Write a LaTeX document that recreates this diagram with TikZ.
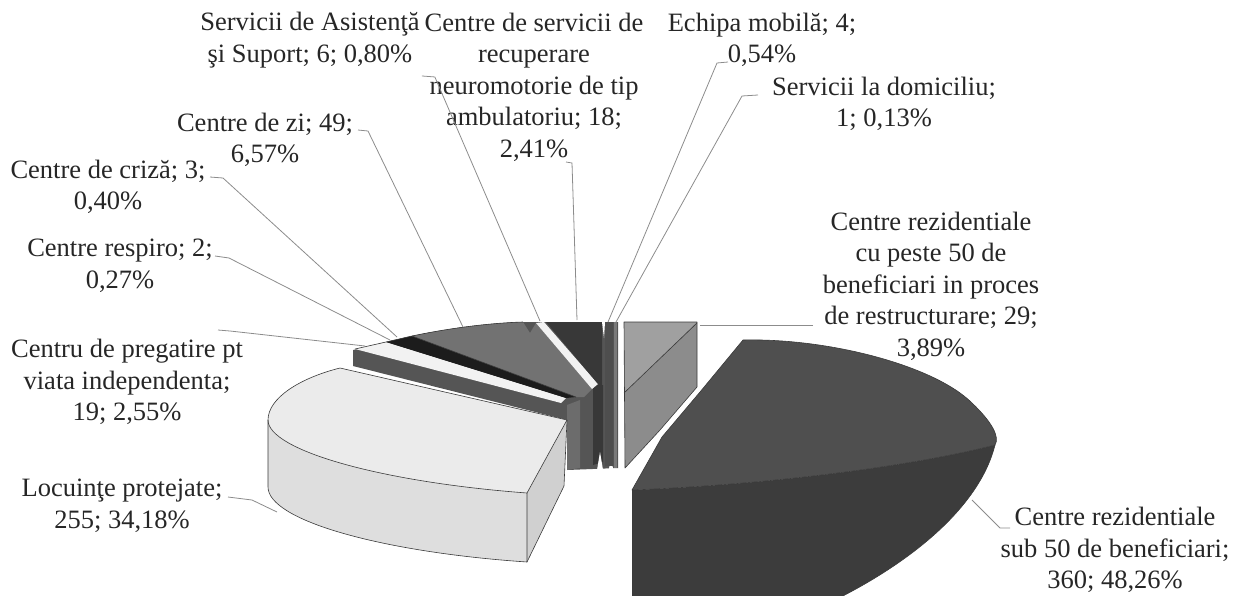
\documentclass[tikz,border=0pt]{standalone}
\usepackage{fontspec}
\setmainfont{Liberation Serif}
\definecolor{txt}{HTML}{262626}
\definecolor{leadc}{HTML}{8C8C8C}
\definecolor{edgec}{HTML}{3A3A3A}
\definecolor{fanbase}{HTML}{555555}
\definecolor{fanwall}{HTML}{6C6C6C}
\definecolor{stripw}{HTML}{F2F2F2}
\definecolor{tiny}{HTML}{1C1C1C}
\definecolor{zitop}{HTML}{727272}
\definecolor{recup}{HTML}{383838}
\definecolor{echc}{HTML}{4E4E4E}
\definecolor{domc}{HTML}{7A7A7A}
\definecolor{boxtop}{HTML}{A0A0A0}
\definecolor{boxlow}{HTML}{8C8C8C}
\definecolor{bigtop}{HTML}{4F4F4F}
\definecolor{bigwall}{HTML}{3C3C3C}
\definecolor{loctop}{HTML}{EBEBEB}
\definecolor{locwall}{HTML}{DEDEDE}
\definecolor{locrad}{HTML}{D0D0D0}
\begin{document}
\begin{tikzpicture}[x=1pt,y=-1pt,
  lbl/.style={align=center,text=txt,font=\fontsize{26.5}{31.5}\selectfont,inner sep=0pt},
  leader/.style={draw=leadc,line width=0.8pt},
  edgeline/.style={draw=edgec,line width=0.6pt,line join=round}]
\useasboundingbox (0,0) rectangle (1235,595);
\begin{scope}
\clip (0,0) rectangle (1235,595);
% back fan block
\fill[fanbase] (353,350) -- (386,342) -- (412,336) .. controls (450,328) and (490,323) .. (523,322) -- (618,322) -- (618,468) -- (567,470) -- (567,420) -- (353,366) -- cycle;
\fill[fanwall] (567,405) -- (580,400) -- (580,468) -- (567,470) -- cycle;
\fill[recup] (593,385) -- (603,385) -- (603,462) -- (593,465) -- cycle;
\fill[white] (597,470) -- (600,452) -- (603,470) -- cycle;
\fill[white] (609,470) -- (611,448) -- (613,470) -- cycle;
% fan top faces
\fill[stripw] (355,349) -- (386,342) -- (566,398) -- (561,403) -- cycle;
\fill[tiny] (386,342) -- (412,336) -- (576,397) -- (566,398) -- cycle;
\fill[zitop] (412,336) .. controls (450,328) and (490,323) .. (523,322) -- (530,333) -- (536,323) -- (592,389) -- (584,397) -- (576,397) -- cycle;
\fill[stripw] (536,323) -- (544,322) -- (598,384) -- (592,389) -- cycle;
\fill[recup] (546,322) -- (602,322) -- (602,392) -- (598,384) -- cycle;
\fill[echc] (605,322) -- (613,322) -- (613,466) -- (605,466) -- cycle;
\fill[domc] (614,322) -- (617,322) -- (617,468) -- (614,468) -- cycle;
\fill[white] (602,322) -- (605,322) -- (604,338) -- cycle;
\draw[edgeline] (355,349) -- (386,342) -- (412,336) .. controls (450,328) and (490,323) .. (523,322);
\draw[edgeline] (412,336) -- (576,397);
% Locuinte protejate slice
\fill[locwall] (268,420) .. controls (268,450) and (380,482) .. (527,493) -- (527,562) .. controls (380,552) and (268,520) .. (268,487) -- cycle;
\fill[locrad] (527,493) -- (567,420) -- (564,486) -- (527,562) -- cycle;
\fill[loctop] (340,368) .. controls (300,378) and (268,398) .. (268,420) .. controls (268,450) and (380,482) .. (527,493) -- (567,420) -- cycle;
\draw[edgeline] (340,368) .. controls (300,378) and (268,398) .. (268,420) .. controls (268,450) and (380,482) .. (527,493) -- (567,420) -- cycle;
\draw[edgeline] (268,420) -- (268,487) .. controls (268,520) and (380,552) .. (527,562) -- (527,493);
\draw[edgeline] (567,420) -- (564,486) -- (527,562);
% residential >50 slice (box)
\fill[boxlow] (624,322) -- (697,322) -- (697,387) -- (660,430) -- (625,468) -- cycle;
\fill[boxtop] (624,322) -- (697,322) -- (624,393) -- cycle;
\draw[edgeline] (624,322) -- (697,322) -- (697,387) -- (660,430) -- (625,468) -- cycle;
\draw[edgeline] (697,323) -- (624,393);
% residential <50 slice
\fill[bigwall] (632,490) -- (632,600) -- (835,600) .. controls (915,560) and (980,505) .. (995,445) .. controls (905,468) and (760,485) .. (632,490) -- cycle;
\fill[bigtop] (743,340) .. controls (830,338) and (935,366) .. (972,403) .. controls (992,422) and (1000,437) .. (995,445) .. controls (905,468) and (760,485) .. (632,490) -- (662,437) -- (700,392) -- cycle;
\draw[edgeline] (743,340) .. controls (830,338) and (935,366) .. (972,403) .. controls (992,422) and (1000,437) .. (995,445) .. controls (905,468) and (760,485) .. (632,490) -- (662,437) -- (700,392) -- cycle;
\draw[edgeline] (632,490) -- (632,600);
\draw[edgeline] (995,445) .. controls (980,505) and (915,560) .. (835,600);
\end{scope}
% labels
\node[lbl] (asist) at (310,40) {Servicii de Asistenţă\\şi Suport; 6; 0,80\%};
\node[lbl] (recup) at (534,87) {Centre de servicii de\\recuperare\\neuromotorie de tip\\ambulatoriu; 18;\\2,41\%};
\node[lbl] (echipa) at (762,40) {Echipa mobilă; 4;\\0,54\%};
\node[lbl] (domic) at (884,104) {Servicii la domiciliu;\\1; 0,13\%};
\node[lbl] (zi) at (265,140) {Centre de zi; 49;\\6,57\%};
\node[lbl] (criza) at (108,187) {Centre de criză; 3;\\0,40\%};
\node[lbl] (respiro) at (120,266) {Centre respiro; 2;\\0,27\%};
\node[lbl] (pregat) at (127,382) {Centru de pregatire pt\\viata independenta;\\19; 2,55\%};
\node[lbl] (locuinte) at (122,506) {Locuinţe protejate;\\255; 34,18\%};
\node[lbl] (rezA) at (931,286) {Centre rezidentiale\\cu peste 50 de\\beneficiari in proces\\de restructurare; 29;\\3,89\%};
\node[lbl] (rezB) at (1115,550) {Centre rezidentiale\\sub 50 de beneficiari;\\360; 48,26\%};
% leader end points
\coordinate (pAsist) at (540,321);
\coordinate (pRecup) at (577,320);
\coordinate (pEchipa) at (608,322);
\coordinate (pDomic) at (616,322);
\coordinate (pZi) at (463,327);
\coordinate (pCriza) at (397,337);
\coordinate (pRespiro) at (390,340);
\coordinate (pPregat) at (365,346);
\coordinate (pLoc) at (277,512);
\coordinate (pRezA) at (700,325);
\coordinate (pRezB) at (972,500);
% leaders
\draw[leader] ([xshift=2pt,yshift=-8pt]asist.south east) -- ++(13,1) -- (pAsist);
\draw[leader] (566,162) -- (572,163) -- (pRecup);
\draw[leader] (728,62) -- (717,63) -- (pEchipa);
\draw[leader] (758,95) -- (742,96) -- (pDomic);
\draw[leader] (358,130) -- (368,131) -- (pZi);
\draw[leader] (210,177) -- (223,178) -- (pCriza);
\draw[leader] (215,256) -- (229,258) -- (pRespiro);
\draw[leader] (218,330) -- (230,331) -- (pPregat);
\draw[leader] (228,497) -- (252,500) -- (pLoc);
\draw[leader] (813,325) -- (pRezA);
\draw[leader] (1010,528) -- (1000,528) -- (pRezB);
\end{tikzpicture}
\end{document}
